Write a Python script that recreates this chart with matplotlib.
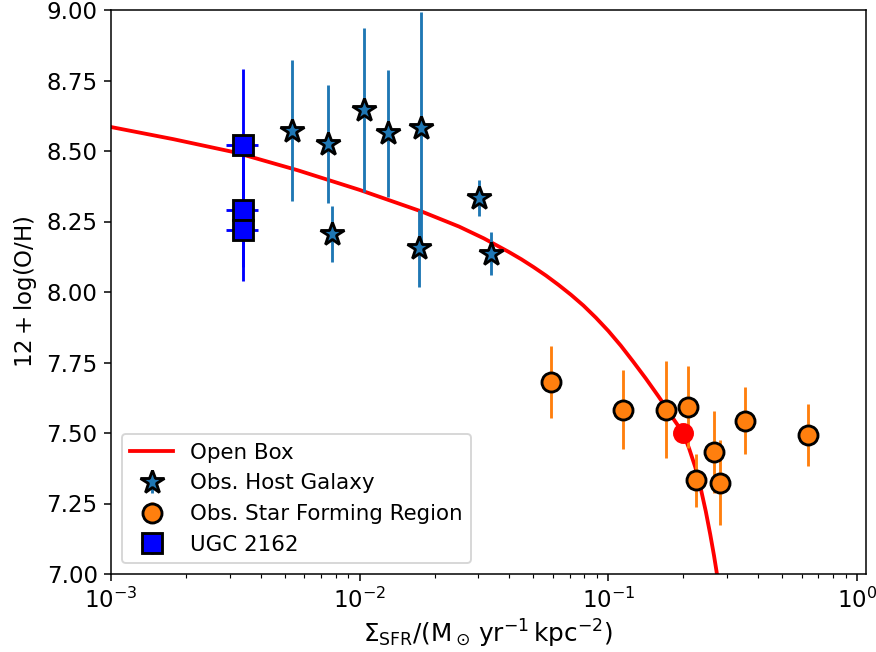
import matplotlib
matplotlib.use("Agg")
import matplotlib.pyplot as plt

# open box model curve
box_sfr = [0.001, 0.00178, 0.00316, 0.00562, 0.01, 0.0178, 0.0251, 0.0316, 0.0398,
           0.0447, 0.0501, 0.0562, 0.0631, 0.0708, 0.0794, 0.0891, 0.1, 0.1122,
           0.1259, 0.1413, 0.1585, 0.170, 0.184, 0.2, 0.2113, 0.2239, 0.2344,
           0.2466, 0.2570, 0.2661, 0.2723, 0.2786]
box_oh = [8.585, 8.542, 8.495, 8.432, 8.362, 8.285, 8.232, 8.190, 8.142,
          8.116, 8.088, 8.058, 8.025, 7.990, 7.952, 7.909, 7.862, 7.810,
          7.753, 7.694, 7.632, 7.593, 7.546, 7.500, 7.445, 7.378, 7.310,
          7.222, 7.140, 7.065, 7.010, 6.950]

# observed host galaxies
host_sfr = [0.00534, 0.00744, 0.00777, 0.0104, 0.0130, 0.0176, 0.0174, 0.0301, 0.0338]
host_oh = [8.572, 8.524, 8.206, 8.645, 8.563, 8.582, 8.155, 8.333, 8.135]
host_err = [0.25, 0.21, 0.10, 0.29, 0.225, 0.41, 0.136, 0.063, 0.076]

# observed star forming regions
sfr_region = [0.0589, 0.1142, 0.170, 0.2096, 0.2244, 0.265, 0.2825, 0.354, 0.635]
oh_region = [7.682, 7.582, 7.582, 7.592, 7.332, 7.433, 7.324, 7.544, 7.493]
err_region = [0.128, 0.14, 0.172, 0.146, 0.095, 0.146, 0.15, 0.12, 0.11]

# UGC 2162
ugc_sfr = [0.0034, 0.0034, 0.0034]
ugc_oh = [8.52, 8.29, 8.22]
ugc_yerr = [0.27, 0.20, 0.18]
ugc_xerr = [0.0005, 0.0005, 0.0005]

# model point
pt_sfr = [0.2]
pt_oh = [7.5]

plt.rcParams["font.size"] = 12
plt.rcParams["mathtext.default"] = "regular"

dpi = 137
fig = plt.figure(figsize=(876 / dpi, 652 / dpi), dpi=dpi)
ax = fig.add_axes([111 / 876, 1 - 574 / 652, 755 / 876, 564 / 652])

ax.plot(box_sfr, box_oh, color="red", lw=2, label="Open Box", zorder=2)
ax.plot(pt_sfr, pt_oh, "o", color="red", ms=10, zorder=6)

ax.errorbar(host_sfr, host_oh, yerr=host_err, fmt="*", color="C0", mfc="C0",
            mec="k", ms=13, mew=1.5, label="Obs. Host Galaxy", zorder=3)
ax.errorbar(sfr_region, oh_region, yerr=err_region, fmt="o", color="C1", mfc="C1",
            mec="k", ms=10, mew=1.5, label="Obs. Star Forming Region", zorder=3)
ax.errorbar(ugc_sfr, ugc_oh, xerr=ugc_xerr, yerr=ugc_yerr, fmt="s", color="blue",
            mfc="blue", mec="k", ms=10, mew=1.5, label="UGC 2162", zorder=3)

ax.set_xscale("log")
ax.set_xlim(1e-3, 1.087)
ax.set_ylim(7.0, 9.0)
ax.set_xlabel(r"$\Sigma_{\rm SFR}/(\rm M_\odot\,yr^{-1}\,kpc^{-2})$", fontsize=13, labelpad=3)
ax.set_ylabel(r"$12 + \log(\rm O/H)$")
ax.legend(loc="lower left", fontsize=11.25)

fig.savefig("out.png", dpi=dpi)
